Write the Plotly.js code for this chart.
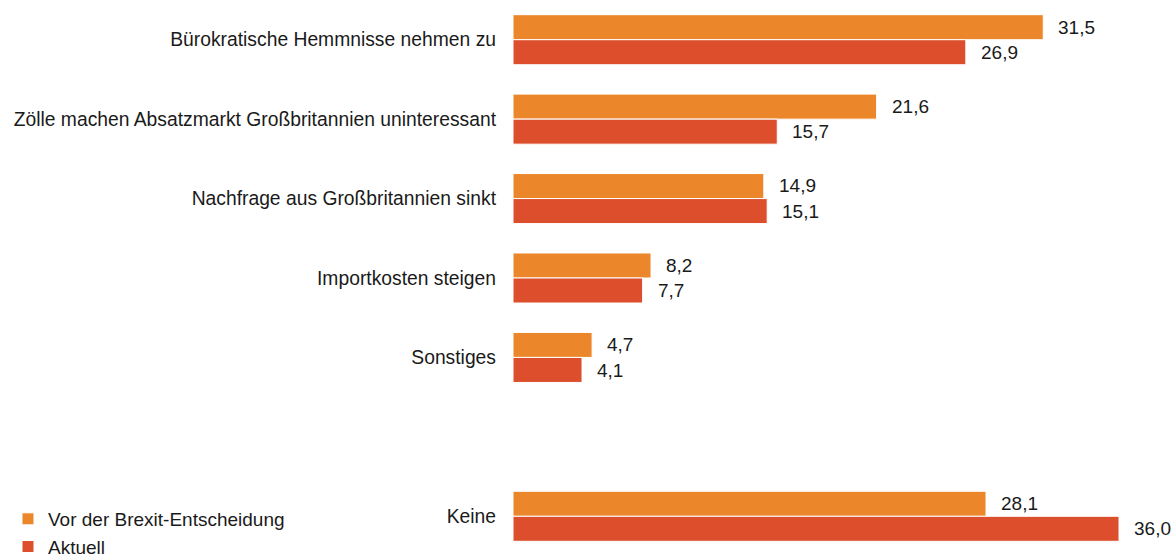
<!DOCTYPE html>
<html>
<head>
<meta charset="utf-8">
<script src="https://cdn.plot.ly/plotly-3.0.1.min.js"></script>
<style>html,body{margin:0;padding:0;background:#fff;}#chart{width:1176px;height:558px;}</style>
</head>
<body>
<div id="chart"></div>
<script>
const categories = [
  "Bürokratische Hemmnisse nehmen zu",
  "Zölle machen Absatzmarkt Großbritannien uninteressant",
  "Nachfrage aus Großbritannien sinkt",
  "Importkosten steigen",
  "Sonstiges",
  " ",
  "Keine"
];
const seriesNames = ["Vor der Brexit-Entscheidung", "Aktuell"];
const vorBrexit = [31.5, 21.6, 14.9, 8.2, 4.7, null, 28.1];
const aktuell   = [26.9, 15.7, 15.1, 7.7, 4.1, null, 36.0];
const colors = ["#EB862A", "#DC4E2C"];

const FONT = 'Liberation Sans, Arial, sans-serif';
const fmt = v => v.toFixed(1).replace('.', ',');

const traces = [vorBrexit, aktuell].map((vals, i) => ({
  type: 'bar',
  orientation: 'h',
  name: seriesNames[i],
  y: categories,
  x: vals,
  marker: {color: colors[i], line: {color: '#ffffff', width: 1}},
  hoverinfo: 'x+name'
}));

const annotations = [];
[vorBrexit, aktuell].forEach((vals, i) => {
  vals.forEach((v, j) => {
    if (v === null) return;
    annotations.push({
      x: v, y: categories[j], xref: 'x', yref: 'y',
      text: fmt(v), showarrow: false,
      xanchor: 'left', yanchor: 'middle',
      xshift: 13, yshift: i === 0 ? 12.7 : -12.7,
      font: {family: FONT, size: 19, color: '#1a1a1a'}
    });
  });
});

const layout = {
  width: 1176, height: 558,
  margin: {l: 513, r: 57, t: 0, b: 2},
  paper_bgcolor: '#ffffff', plot_bgcolor: '#ffffff',
  barmode: 'group', bargap: 0.37, bargroupgap: 0,
  showlegend: true,
  legend: {
    xref: 'container', yref: 'container',
    x: 0.0068, y: 0.104, xanchor: 'left', yanchor: 'top',
    orientation: 'v', traceorder: 'normal',
    font: {family: FONT, size: 19, color: '#1a1a1a'},
    itemwidth: 30, tracegroupgap: 0, borderwidth: 0
  },
  xaxis: {range: [0, 36], visible: false, showgrid: false, zeroline: false},
  yaxis: {
    type: 'category', categoryorder: 'array', categoryarray: categories,
    range: [6.5, -0.5], showgrid: false, zeroline: false, showline: false,
    ticks: '', ticklabelstandoff: 16,
    tickfont: {family: FONT, size: 19.3, color: '#1a1a1a'}
  },
  annotations: annotations
};

Plotly.newPlot('chart', traces, layout, {displayModeBar: false, staticPlot: true});
</script>
</body>
</html>
